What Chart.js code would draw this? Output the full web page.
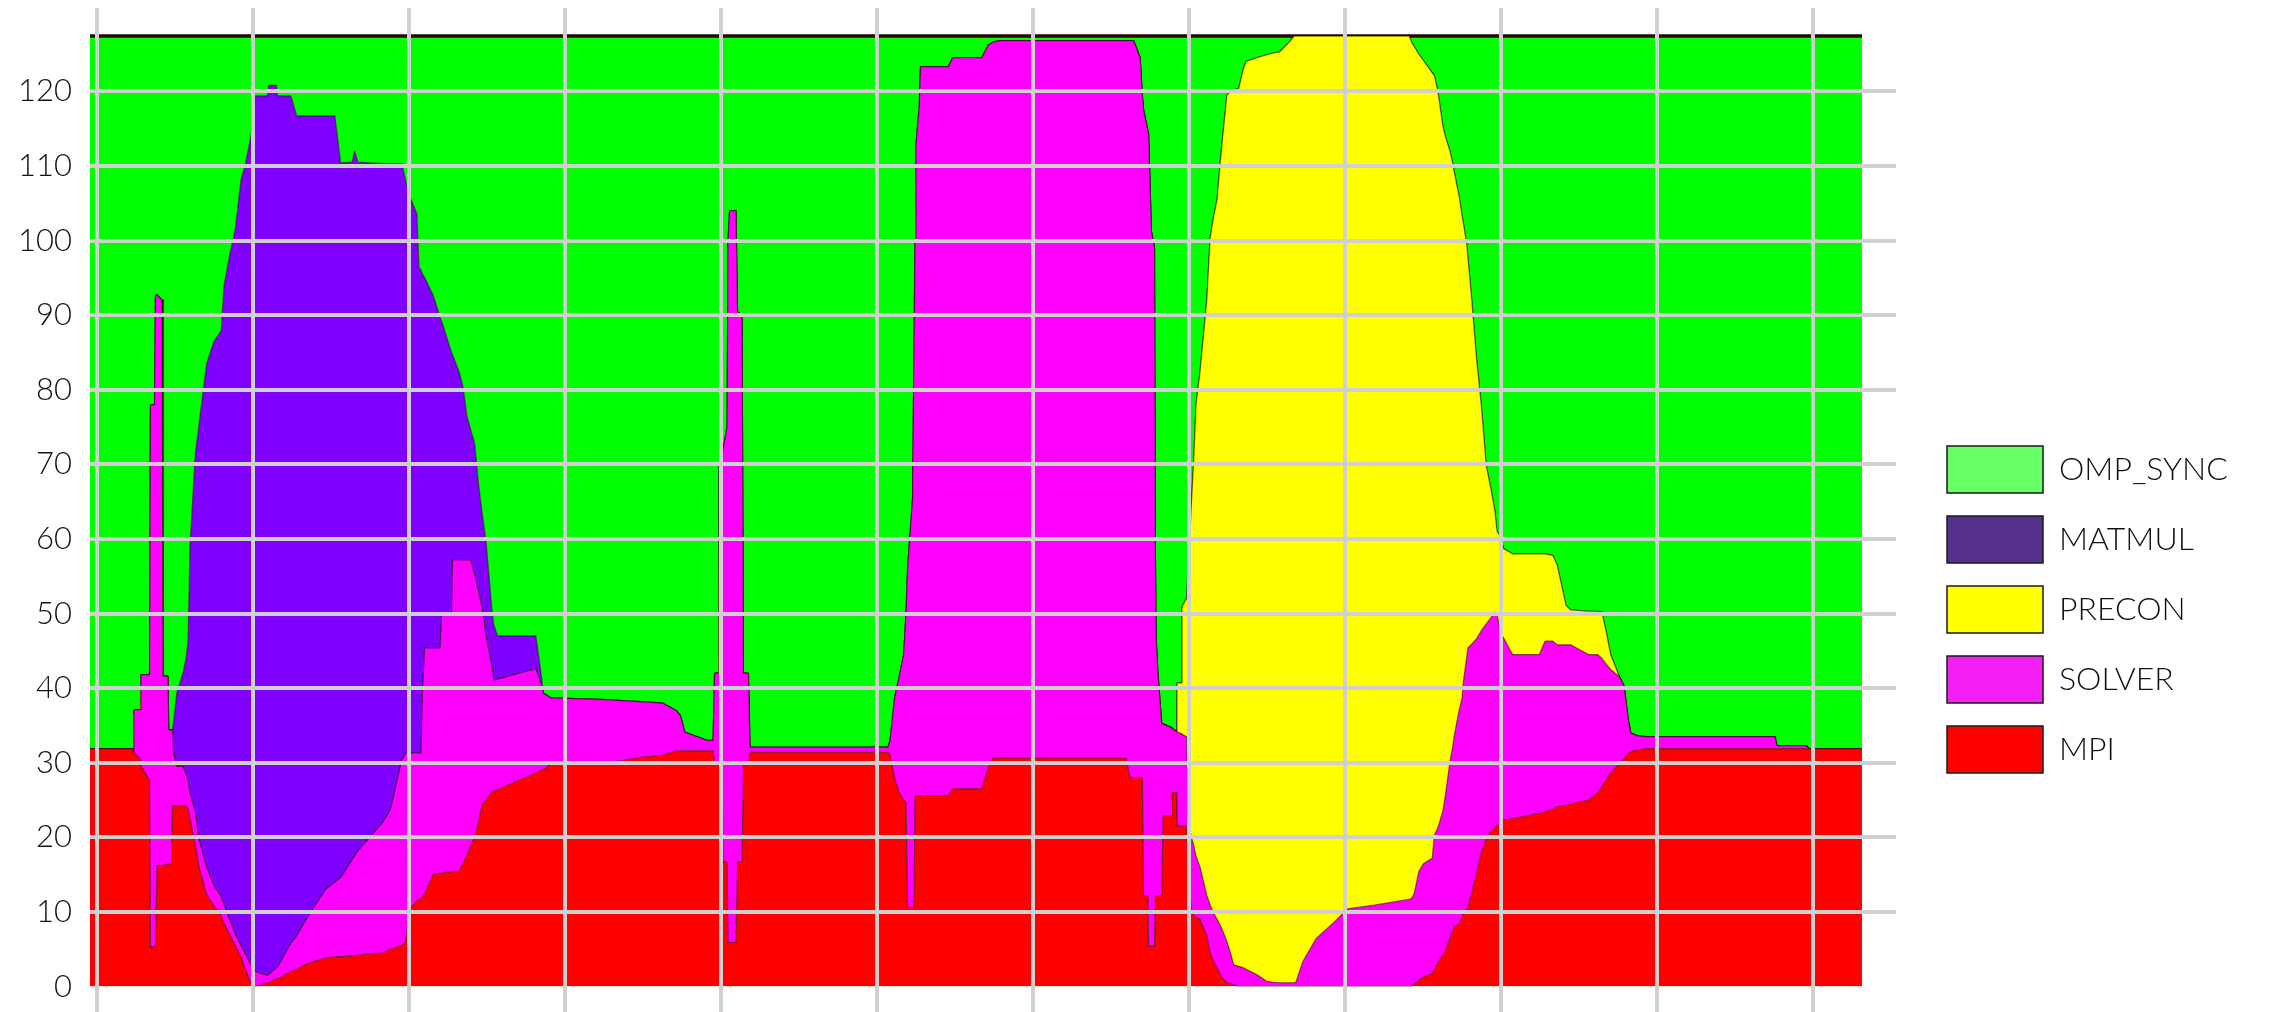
<!DOCTYPE html>
<html>
<head>
<meta charset="utf-8">
<title>Thread activity by region</title>
<script src="https://cdn.jsdelivr.net/npm/chart.js@4.4.1/dist/chart.umd.min.js"></script>
<style>
  html, body { margin: 0; padding: 0; background: #ffffff; overflow: hidden; }
  #wrap { position: relative; width: 2278px; height: 1012px; }
</style>
</head>
<body>
<div id="wrap"><canvas id="chart"></canvas></div>
<script>
// Sample times (x) shared by every series
const time = [
  -0.42, 2.34, 2.40, 2.79, 2.85, 3.40, 3.46, 3.72, 3.78, 3.88,
  4.20, 4.26, 4.58, 4.63, 4.81, 4.87, 4.97, 5.14, 5.54, 5.74,
  5.87, 5.99, 6.33, 6.57, 7.06, 7.53, 7.99, 8.17, 8.53, 8.90,
  9.27, 9.51, 9.88, 10.01, 10.20, 10.96, 11.03, 11.54, 11.60, 12.46,
  12.83, 13.44, 14.67, 15.28, 15.65, 16.38, 16.54, 16.76, 18.35, 18.84,
  19.57, 19.82, 20.06, 20.54, 20.67, 20.80, 20.90, 21.04, 21.57, 22.03,
  22.12, 22.76, 22.82, 23.26, 23.49, 23.75, 23.99, 24.24, 24.48, 24.72,
  24.97, 25.34, 25.46, 25.71, 28.16, 28.43, 28.65, 29.13, 32.28, 34.84,
  36.28, 37.15, 37.43, 37.71, 39.13, 39.52, 39.62, 39.84, 39.90, 40.10,
  40.16, 40.42, 40.48, 40.58, 40.99, 41.09, 41.38, 41.47, 41.79, 41.89,
  50.74, 50.87, 51.16, 51.44, 51.74, 51.89, 51.99, 52.31, 52.40, 52.47,
  52.53, 52.74, 52.82, 54.60, 54.88, 56.74, 57.17, 57.47, 57.89, 65.99,
  66.25, 66.47, 66.63, 66.90, 67.04, 67.12, 67.40, 67.44, 67.62, 67.82,
  67.87, 67.92, 68.04, 68.28, 68.37, 68.91, 68.94, 69.23, 69.26, 69.55,
  69.58, 69.87, 70.03, 70.19, 70.32, 70.48, 70.74, 71.17, 71.38, 71.59,
  71.83, 72.03, 72.24, 72.46, 72.69, 72.90, 73.22, 73.51, 73.69, 74.37,
  75.01, 75.35, 75.84, 76.46, 76.76, 76.89, 77.32, 78.17, 79.32, 80.18,
  81.90, 84.15, 84.30, 84.47, 84.76, 85.07, 85.62, 85.76, 85.99, 86.30,
  86.47, 86.76, 86.92, 87.05, 87.34, 87.53, 87.62, 87.84, 87.91, 88.15,
  88.46, 88.77, 89.08, 89.34, 89.62, 89.78, 89.97, 90.20, 90.77, 92.49,
  92.85, 93.35, 93.63, 94.20, 94.49, 95.64, 96.21, 96.50, 96.78, 97.06,
  97.63, 97.92, 98.21, 98.35, 98.78, 99.35, 107.60, 107.72, 109.58, 109.78,
  113.17
];

// Threads in each state at every sample (stacked bottom to top)
const mpi = [
  31.9, 31.9, 31.4, 30.5, 29.5, 27.7, 5.3, 5.3, 5.3, 16.2,
  16.2, 16.2, 16.4, 16.4, 16.5, 24.2, 24.2, 24.2, 24.2, 24.2,
  23.8, 22.5, 19.0, 16.0, 12.3, 10.8, 9.5, 8.5, 7.0, 5.5,
  4.0, 2.5, 0.5, 0, 0, 0.5, 0.5, 1.0, 1.0, 2.0,
  2.3, 3.0, 3.8, 4.0, 4.0, 4.1, 4.1, 4.2, 4.5, 5.0,
  5.5, 6.0, 10.3, 11.5, 11.7, 11.8, 12.0, 12.5, 15.0, 15.2,
  15.2, 15.4, 15.4, 15.5, 16.5, 17.6, 18.8, 20.0, 22.0, 24.4,
  25.0, 26.0, 26.2, 26.4, 28.6, 28.9, 29.1, 29.8, 29.8, 30.7,
  31.0, 31.6, 31.6, 31.6, 31.6, 31.6, 30.1, 30.1, 30.1, 30.1,
  16.7, 16.7, 5.9, 5.9, 5.9, 16.7, 16.7, 30.0, 30.0, 31.4,
  31.4, 31.0, 28.0, 26.0, 25.0, 24.7, 10.6, 10.6, 10.6, 25.6,
  25.6, 25.6, 25.6, 25.6, 26.5, 26.5, 29.3, 30.6, 30.6, 30.6,
  28.0, 28.0, 28.0, 28.0, 28.0, 12.2, 12.2, 5.4, 5.4, 5.4,
  12.2, 12.2, 12.2, 12.2, 22.9, 22.9, 26.0, 26.0, 21.5, 21.5,
  21.5, 21.5, 14.0, 9.9, 9.6, 9.3, 9.0, 6.8, 4.6, 3.4,
  2.5, 1.6, 1.0, 0.5, 0.4, 0.2, 0, 0, 0, 0,
  0, 0, 0, 0, 0, 0, 0, 0, 0, 0,
  0, 0, 0, 0.3, 0.8, 1.3, 1.7, 2.3, 3.2, 4.2,
  4.8, 6.5, 7.4, 8.0, 8.4, 9.3, 9.8, 10.4, 10.6, 12.5,
  15.1, 18.0, 19.7, 20.7, 21.3, 21.6, 21.9, 22.3, 22.5, 23.2,
  23.4, 23.8, 24.1, 24.3, 24.5, 25.0, 25.9, 26.8, 27.7, 28.6,
  29.9, 30.5, 31.3, 31.5, 31.7, 31.9, 31.9, 31.9, 31.9, 31.9,
  31.9
];

const solver = [
  0, 0, 5.7, 6.6, 12.3, 14.1, 72.7, 72.7, 87.4, 76.5,
  75.8, 25.4, 25.2, 18.0, 17.9, 10.2, 6.8, 5.3, 5.3, 4.3,
  3.7, 3.5, 4.5, 3.7, 3.7, 2.7, 2.6, 2.5, 2.0, 1.5,
  1.5, 2.0, 2.5, 2.3, 2.0, 1.0, 1.1, 1.5, 1.6, 3.8,
  4.5, 6.0, 9.2, 10.0, 10.6, 12.9, 13.4, 14.0, 17.5, 18.7,
  24.9, 25.3, 21.0, 19.8, 19.6, 19.5, 28.0, 32.9, 30.4, 30.2,
  34.7, 34.5, 41.8, 41.7, 40.7, 39.6, 38.4, 35.2, 31.0, 26.3,
  22.0, 17.0, 14.9, 14.8, 14.0, 12.1, 10.2, 8.9, 8.7, 7.5,
  7.0, 5.4, 4.7, 2.5, 1.4, 1.4, 11.9, 11.9, 39.9, 39.9,
  55.3, 58.3, 94.1, 98.1, 98.1, 73.8, 73.3, 12.0, 12.0, 0.7,
  0.7, 2.0, 10.7, 15.4, 19.5, 25.3, 45.4, 54.8, 74.4, 74.4,
  87.3, 92.4, 97.7, 97.7, 98.0, 98.0, 96.9, 96.0, 96.2, 96.2,
  98.8, 98.8, 98.0, 96.5, 91.5, 105.3, 102.5, 109.0, 95.9, 93.6,
  47.8, 34.8, 29.8, 23.1, 12.3, 11.8, 8.6, 8.2, 12.6, 12.4,
  12.3, 12.0, 7.5, 10.1, 9.4, 8.2, 7.0, 5.4, 6.4, 6.5,
  6.5, 6.6, 6.2, 5.5, 4.1, 2.7, 2.7, 2.5, 2.3, 1.6,
  0.7, 0.6, 0.5, 0.5, 0.5, 0.6, 3.3, 6.4, 8.6, 10.4,
  10.9, 11.7, 11.8, 12.2, 14.6, 15.2, 15.5, 18.0, 18.1, 19.3,
  20.9, 23.7, 24.6, 25.8, 28.6, 29.3, 31.1, 33.9, 34.8, 33.4,
  31.5, 29.7, 28.9, 28.6, 28.9, 28.4, 25.6, 24.4, 22.0, 21.3,
  22.9, 22.5, 21.7, 21.5, 21.3, 19.5, 18.6, 17.2, 15.5, 13.9,
  11.6, 9.8, 4.2, 2.5, 1.9, 1.6, 1.6, 0.4, 0.4, 0,
  0
];

const precon = [
  0, 0, 0, 0, 0, 0, 0, 0, 0, 0,
  0, 0, 0, 0, 0, 0, 0, 0, 0, 0,
  0, 0, 0, 0, 0, 0, 0, 0, 0, 0,
  0, 0, 0, 0, 0, 0, 0, 0, 0, 0,
  0, 0, 0, 0, 0, 0, 0, 0, 0, 0,
  0, 0, 0, 0, 0, 0, 0, 0, 0, 0,
  0, 0, 0, 0, 0, 0, 0, 0, 0, 0,
  0, 0, 0, 0, 0, 0, 0, 0, 0, 0,
  0, 0, 0, 0, 0, 0, 0, 0, 0, 0,
  0, 0, 0, 0, 0, 0, 0, 0, 0, 0,
  0, 0, 0, 0, 0, 0, 0, 0, 0, 0,
  0, 0, 0, 0, 0, 0, 0, 0, 0, 0,
  0, 0, 0, 0, 0, 0, 0, 0, 0, 0,
  0, 0, 0, 0, 0, 0, 0, 0, 6.6, 6.8,
  17.1, 18.5, 36.5, 45.0, 51.0, 60.5, 66.5, 79.8, 89.3, 93.1,
  96.5, 102.3, 107.8, 113.5, 115.5, 117.3, 117.7, 120.5, 121.7, 122.9,
  124.2, 124.5, 124.8, 126.1, 126.9, 126.8, 124.1, 121.0, 118.8, 117.0,
  116.5, 115.7, 114.8, 113.5, 109.6, 107.6, 105.3, 101.8, 98.6, 91.9,
  88.2, 81.8, 78.5, 75.2, 69.0, 64.8, 61.4, 55.1, 52.3, 46.3,
  37.6, 30.2, 21.3, 17.9, 13.8, 11.0, 12.9, 12.0, 13.5, 13.5,
  11.7, 11.5, 10.7, 5.3, 4.7, 5.8, 5.8, 6.2, 4.3, 2.0,
  0, 0, 0, 0, 0, 0, 0, 0, 0, 0,
  0
];

const matmul = [
  0, 0, 0, 0, 0, 0, 0, 0, 0, 0,
  0, 0, 0, 0, 0, 0, 5.0, 9.8, 12.5, 15.5,
  18.9, 33.0, 47.8, 55.7, 67.5, 73.0, 75.8, 82.9, 89.0, 94.6,
  102.8, 105.4, 110.8, 113.7, 117.4, 117.9, 119.2, 118.3, 116.8, 113.6,
  109.9, 107.7, 103.7, 102.7, 95.8, 93.5, 94.5, 92.3, 88.3, 86.6,
  79.9, 76.7, 74.7, 72.3, 65.1, 64.7, 55.5, 49.6, 47.3, 44.3,
  39.3, 35.1, 27.5, 25.1, 23.2, 19.2, 17.4, 17.6, 14.5, 12.7,
  12.6, 7.6, 7.4, 5.8, 4.4, 2.0, 0, 0, 0, 0,
  0, 0, 0, 0, 0, 0, 0, 0, 0, 0,
  0, 0, 0, 0, 0, 0, 0, 0, 0, 0,
  0, 0, 0, 0, 0, 0, 0, 0, 0, 0,
  0, 0, 0, 0, 0, 0, 0, 0, 0, 0,
  0, 0, 0, 0, 0, 0, 0, 0, 0, 0,
  0, 0, 0, 0, 0, 0, 0, 0, 0, 0,
  0, 0, 0, 0, 0, 0, 0, 0, 0, 0,
  0, 0, 0, 0, 0, 0, 0, 0, 0, 0,
  0, 0, 0, 0, 0, 0, 0, 0, 0, 0,
  0, 0, 0, 0, 0, 0, 0, 0, 0, 0,
  0, 0, 0, 0, 0, 0, 0, 0, 0, 0,
  0, 0, 0, 0, 0, 0, 0, 0, 0, 0,
  0, 0, 0, 0, 0, 0, 0, 0, 0, 0,
  0, 0, 0, 0, 0, 0, 0, 0, 0, 0,
  0
];

const ompSync = [
  95.5, 95.5, 90.3, 90.3, 85.6, 85.6, 49.4, 49.4, 34.7, 34.7,
  35.4, 85.8, 85.8, 93.0, 93.0, 93.0, 91.4, 88.1, 85.4, 83.4,
  81.0, 68.4, 56.1, 52.0, 43.9, 40.9, 39.5, 33.5, 29.4, 25.8,
  19.1, 17.5, 13.6, 11.4, 8.0, 8.0, 6.6, 6.6, 8.0, 8.0,
  10.7, 10.7, 10.7, 10.7, 17.0, 16.9, 15.4, 16.9, 17.1, 17.1,
  17.1, 19.4, 21.4, 23.8, 31.0, 31.4, 31.9, 32.4, 34.7, 37.7,
  38.2, 42.4, 42.7, 45.1, 47.0, 51.0, 52.8, 54.6, 59.9, 64.0,
  67.8, 76.8, 78.9, 80.4, 80.4, 84.4, 88.1, 88.7, 88.9, 89.2,
  89.4, 90.4, 91.1, 93.3, 94.4, 94.4, 85.4, 85.4, 57.4, 57.4,
  55.4, 52.4, 27.4, 23.4, 23.4, 36.9, 37.4, 85.4, 85.4, 95.3,
  95.3, 94.4, 88.7, 86.0, 82.9, 77.4, 71.4, 62.0, 42.4, 27.4,
  14.5, 9.4, 4.1, 4.1, 2.9, 2.9, 1.2, 0.8, 0.6, 0.6,
  0.6, 0.6, 1.4, 2.9, 7.9, 9.9, 12.7, 13.0, 26.1, 28.4,
  67.4, 80.4, 85.4, 92.1, 92.2, 92.7, 92.8, 93.2, 86.7, 86.7,
  76.5, 75.4, 69.4, 62.4, 57.4, 49.4, 44.9, 35.4, 27.1, 24.4,
  21.9, 16.9, 12.4, 7.9, 7.4, 7.2, 7.0, 4.4, 3.4, 2.9,
  2.5, 2.3, 2.1, 0.8, 0, 0, 0, 0, 0, 0,
  0, 0, 0.8, 1.4, 2.4, 3.3, 4.9, 5.3, 7.5, 12.0,
  13.5, 15.4, 16.9, 18.4, 21.4, 24.0, 25.1, 28.0, 29.7, 35.2,
  43.2, 49.5, 57.5, 60.2, 63.4, 66.4, 67.0, 68.7, 69.4, 69.4,
  69.4, 69.6, 70.9, 76.3, 76.9, 77.1, 77.1, 77.2, 79.9, 82.9,
  85.9, 87.1, 91.9, 93.4, 93.8, 93.9, 93.9, 95.1, 95.1, 95.5,
  95.5
];

const seriesNames = ['MPI', 'SOLVER', 'PRECON', 'MATMUL', 'OMP_SYNC'];
const yTickValues = [0, 10, 20, 30, 40, 50, 60, 70, 80, 90, 100, 110, 120];
const xTickValues = [0, 10, 20, 30, 40, 50, 60, 70, 80, 90, 100, 110];

// Area fills and legend swatches, bottom layer first
const areaColors   = ['#ff0000', '#ff00ff', '#ffff00', '#8000ff', '#00ff00'];
const swatchColors = ['#ff0000', '#f520f5', '#ffff00', '#55308d', '#66ff66'];

const FONT_FAMILY = "Lato, 'Open Sans', 'DejaVu Sans', sans-serif";
const LEGEND_FONT = { family: FONT_FAMILY, size: 32, weight: '300' };
const TICK_FONT = { family: FONT_FAMILY, size: 31, weight: '300' };

const GRID = '#d0d0d0';
const SWATCH_W = 96, SWATCH_H = 47, LEGEND_GAP = 23;

// Legend is sized by its widest label; pad the right edge so the swatches
// start at a fixed column whatever the label widths turn out to be.
const probe = document.createElement('canvas').getContext('2d');
probe.font = `${LEGEND_FONT.weight} ${LEGEND_FONT.size}px ${FONT_FAMILY}`;
const widestLabel = Math.max(...seriesNames.map(n => probe.measureText(n).width));
const legendWidth = LEGEND_GAP + SWATCH_W + LEGEND_FONT.size / 2 + widestLabel + 10;
const rightPad = Math.max(0, 2278 - 1924 - legendWidth);

const series = [mpi, solver, precon, matmul, ompSync];
const datasets = series.map((values, i) => ({
  label: seriesNames[i],
  data: time.map((t, k) => ({ x: t, y: values[k] })),
  backgroundColor: areaColors[i],
  borderColor: i === 4 ? '#2b0606' : 'rgba(25, 0, 0, 0.55)',
  borderWidth: i === 4 ? 3.5 : 1.2,
  borderJoinStyle: 'round',
  fill: i === 0 ? 'origin' : '-1',
  pointRadius: 0,
  pointHoverRadius: 0,
  tension: 0
}));

new Chart(document.getElementById('chart'), {
  type: 'line',
  data: { datasets },
  options: {
    responsive: true,
    maintainAspectRatio: false,
    animation: false,
    events: [],
    layout: { padding: { top: 8, right: rightPad, bottom: 0, left: 0 } },
    plugins: {
      tooltip: { enabled: false },
      legend: {
        position: 'right',
        align: 'start',
        reverse: true,
        title: { display: true, text: '', font: { size: 10, lineHeight: 1.2 }, padding: { top: 403, bottom: 0 } },
        labels: {
          boxWidth: SWATCH_W,
          boxHeight: SWATCH_H,
          padding: LEGEND_GAP,
          color: '#111111',
          font: LEGEND_FONT,
          generateLabels: chart => chart.data.datasets.map((ds, i) => ({
            text: ds.label,
            fillStyle: swatchColors[i],
            strokeStyle: '#1a1a1a',
            lineWidth: 1.5,
            fontColor: '#111111',
            hidden: false,
            datasetIndex: i
          }))
        }
      }
    },
    scales: {
      x: {
        type: 'linear',
        min: -0.417,
        max: 115.35,
        afterBuildTicks: s => { s.ticks = xTickValues.map(v => ({ value: v })); },
        ticks: { display: false },
        border: { display: false },
        grid: { color: GRID, lineWidth: 4, z: 1, drawTicks: true, tickLength: 25.5, tickColor: GRID }
      },
      y: {
        type: 'linear',
        stacked: true,
        min: 0,
        max: 131.17,
        afterBuildTicks: s => { s.ticks = yTickValues.map(v => ({ value: v })); },
        // fixed axis width; labels sit well inside the plot so no extra edge room
        afterFit: s => { s.width = 90; s.paddingTop = 0; s.paddingBottom = 0; },
        ticks: { color: '#111111', font: TICK_FONT, padding: 18 },
        border: { display: false },
        grid: {
          color: ctx => (ctx.tick && ctx.tick.value === 0) ? 'rgba(0,0,0,0)' : GRID,
          lineWidth: 4,
          z: 1,
          drawTicks: false
        }
      },
      gutter: {
        type: 'linear',
        position: 'right',
        display: true,
        afterFit: s => { s.width = 28; s.paddingTop = 0; s.paddingBottom = 0; },
        ticks: { display: false },
        border: { display: false },
        grid: { display: false }
      }
    }
  }
});
</script>
</body>
</html>
